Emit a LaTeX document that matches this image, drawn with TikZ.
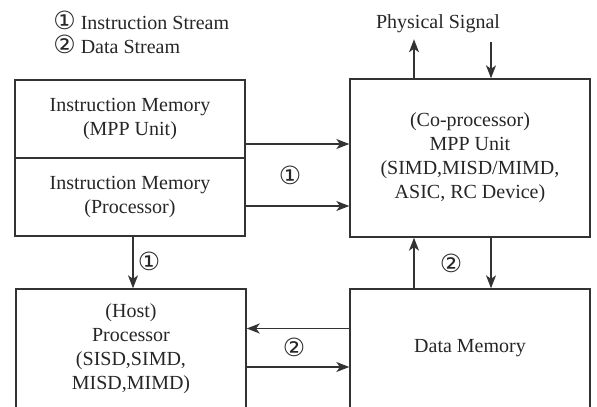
\documentclass[tikz,border=0pt]{standalone}
\usepackage{fontspec}
\setmainfont{Liberation Serif}
\newfontfamily\circfont{DejaVu Sans}
\usetikzlibrary{arrows.meta, positioning}
\newcommand{\cnum}[1]{{\circfont\fontsize{12.5}{12}\selectfont #1}}

\begin{document}
\begin{tikzpicture}[x=0.5pt, y=-0.5pt,
  font=\fontsize{10}{12}\selectfont,
  line width=0.7pt, draw=black!80, text=black!85,
  box/.style={draw, rectangle, inner sep=0pt, align=center},
  flow/.style={-{Stealth[length=6.5pt, width=5pt, inset=1.8pt]}}]
  \useasboundingbox (0,0) rectangle (597,406);
  \clip (0,0) rectangle (597,406);
  \node[anchor=west] (leg1) at (46,20) {\cnum{①} Instruction Stream};
  \node[anchor=west] (leg2) at (46,44) {\cnum{②} Data Stream};
  \node[box, minimum width=115pt, minimum height=39pt] (imu) at (130,119) {Instruction Memory\\(MPP Unit)};
  \node[box, minimum width=115pt, minimum height=39pt] (imp) at (130,197) {Instruction Memory\\(Processor)};
  \node[box, minimum width=120pt, minimum height=79pt] (mpp) at (470,158) {(Co-processor)\\MPP Unit\\(SIMD,MISD/MIMD,\\ASIC, RC Device)};
  \node[box, minimum width=115pt, minimum height=59.5pt] (host) at (131,348.5) {(Host)\\Processor\\(SISD,SIMD,\\MISD,MIMD)};
  \node[box, minimum width=120pt, minimum height=59.5pt] (dmem) at (470,348.5) {Data Memory};
  \node (ps) at (438,24) {Physical Signal};
  \coordinate (i1) at ([yshift=-12.5pt]imu.east);
  \coordinate (i2) at ([yshift=-4.5pt]imp.east);
  \coordinate (pu) at ([xshift=-28pt]mpp.north);
  \coordinate (pd) at ([xshift=10.5pt]mpp.north);
  \coordinate (du) at ([xshift=-28pt]dmem.north);
  \coordinate (dd) at ([xshift=10.5pt]mpp.south);
  \coordinate (hl) at ([yshift=10pt]host.east);
  \coordinate (hr) at ([yshift=-9.25pt]host.east);
  \coordinate (iv) at ([xshift=1.5pt]imp.south);
  \draw[flow] (i1) -- (i1 -| mpp.west);
  \draw[flow] (i2) -- (i2 -| mpp.west);
  \draw[flow] (pu) -- ++(0,-39);
  \draw[flow] (pd) ++(0,-36) -- (pd);
  \draw[flow] (iv) -- (iv |- host.north);
  \draw[flow] (du) -- (du |- mpp.south);
  \draw[flow] (dd) -- (dd |- dmem.north);
  \draw[flow] (hl -| dmem.west) -- (hl);
  \draw[flow] (hr) -- (hr -| dmem.west);
  \node (n1) at (290,175) {\cnum{①}};
  \node (n2) at (149,261) {\cnum{①}};
  \node (n3) at (451,263) {\cnum{②}};
  \node (n4) at (294,347) {\cnum{②}};
\end{tikzpicture}
\end{document}
